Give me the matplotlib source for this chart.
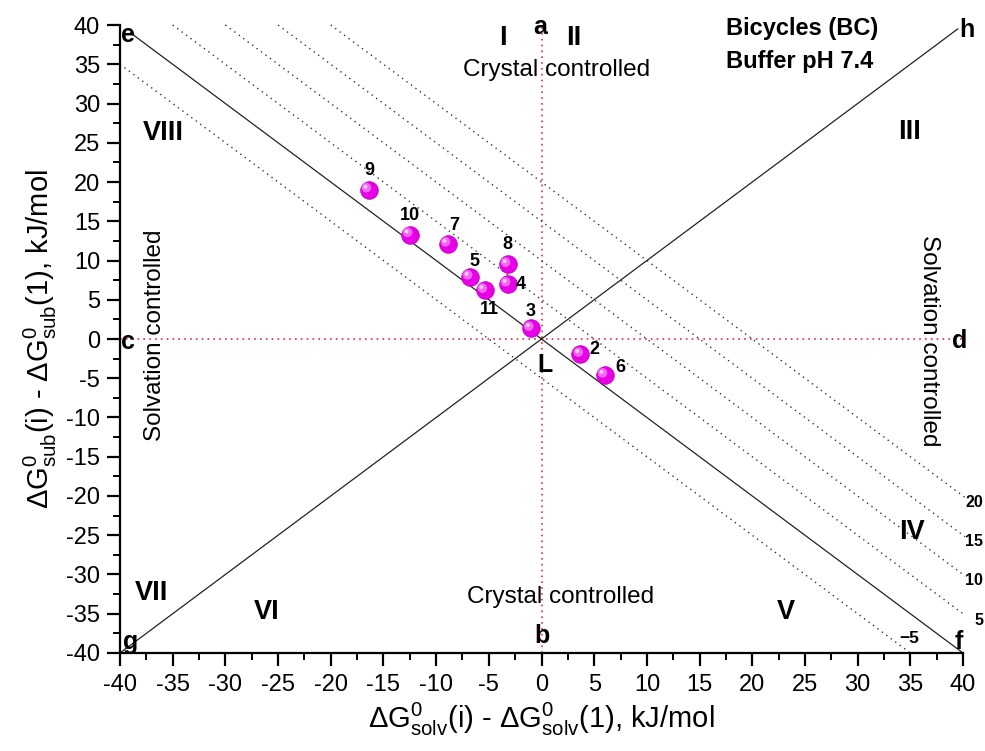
import matplotlib
matplotlib.use("Agg")
import matplotlib.pyplot as plt
from matplotlib.transforms import offset_copy
import numpy as np

plt.rcParams['font.family'] = ['Liberation Sans', 'DejaVu Sans']
plt.rcParams['mathtext.fontset'] = 'custom'
plt.rcParams['mathtext.rm'] = 'Liberation Sans'
plt.rcParams['mathtext.it'] = 'Liberation Sans'
plt.rcParams['mathtext.bf'] = 'Liberation Sans:bold'

# Compound data: solvation vs sublimation Gibbs energy differences
labels = ['9', '10', '7', '8', '5', '4', '11', '3', '2', '6']
d_solv = [-16.4, -12.5, -8.9, -3.2, -6.8, -3.2, -5.4, -1.0, 3.7, 6.0]
d_sub = [19.0, 13.3, 12.1, 9.5, 7.9, 7.0, 6.2, 1.35, -1.95, -4.6]
label_dx = [0.1, 0.0, 0.6, 0.0, 0.4, 1.2, 0.5, 0.0, 1.3, 1.5]
label_dy = [2.5, 2.4, 2.3, 2.6, 2.0, 0.0, -2.4, 2.1, 0.6, 1.0]

# Iso-lines x + y = const
iso_consts = [-5, 5, 10, 15, 20]
iso_labels = ['−5', '5', '10', '15', '20']

xticks = np.arange(-40, 41, 5)
yticks = np.arange(-40, 41, 5)

fig = plt.figure(figsize=(9.85, 7.51), dpi=100)
ax = fig.add_axes([0.1218, 0.1305, 0.8559, 0.8362])
ax.set_xlim(-40, 40)
ax.set_ylim(-40, 40)

for s in ['top', 'right']:
    ax.spines[s].set_visible(False)
for s in ['left', 'bottom']:
    ax.spines[s].set_linewidth(1.6)

ax.set_xticks(xticks)
ax.set_yticks(yticks)
ax.set_xticks(np.arange(-37.5, 40, 5), minor=True)
ax.set_yticks(np.arange(-37.5, 40, 5), minor=True)
ax.tick_params(which='major', direction='out', length=9.3, width=1.6, labelsize=17)
ax.tick_params(which='minor', direction='out', length=4.8, width=1.4)
ax.tick_params(axis='x', which='major', pad=5.5)
ax.tick_params(axis='y', which='major', pad=5)
ax.set_xticklabels([f'{v:d}' for v in xticks])
ax.set_yticklabels([f'{v:d}' for v in yticks])

ax.set_xlabel('ΔG$^0_{solv}$(i) - ΔG$^0_{solv}$(1), kJ/mol', fontsize=21, labelpad=3.5)
ax.set_ylabel('ΔG$^0_{sub}$(i) - ΔG$^0_{sub}$(1), kJ/mol', fontsize=21, labelpad=5)

# Reference axes through L
ax.plot([-40, 40], [0, 0], color='#e03030', ls=(0, (1, 2.5)), lw=1.2)
ax.plot([0, 0], [-40, 40], color='#e03030', ls=(0, (1, 2.5)), lw=1.2)

# Diagonals e-f and g-h
ax.plot([-39, 40], [39, -40], color='#222222', lw=0.9, clip_on=False)
ax.plot([-40, 39.5], [-40, 39.5], color='#222222', lw=0.9, clip_on=False)

# Iso-lines
for c in iso_consts:
    x0 = max(-40, c - 40)
    x1 = min(40.2, c + 40)
    ax.plot([x0, x1], [c - x0, c - x1], color='#333333', ls=(0, (1, 3)), lw=1.0, clip_on=False)

for c, t in zip(iso_consts, iso_labels):
    if c < 0:
        ax.text(34.9, -38.2, t, fontsize=12.5, fontweight='bold', ha='center', va='center')
    else:
        ax.text(41.9, c - 40.8, t, fontsize=11.5, fontweight='bold', ha='right', va='center',
                clip_on=False)

# Points drawn as shaded spheres
ax.scatter(d_solv, d_sub, s=160, color='#e600e6', edgecolors='#c400c4', linewidths=0.6, zorder=5)
hl = offset_copy(ax.transData, fig=fig, x=-1.6, y=1.6, units='points')
ax.scatter(d_solv, d_sub, s=48, color='#f266f2', edgecolors='none', zorder=6, transform=hl)
hl2 = offset_copy(ax.transData, fig=fig, x=-2.3, y=2.3, units='points')
ax.scatter(d_solv, d_sub, s=8, color='#ffd0ff', edgecolors='none', zorder=7, transform=hl2)

for lab, x, y, dx, dy in zip(labels, d_solv, d_sub, label_dx, label_dy):
    ax.text(x + dx, y + dy, lab, fontsize=13, fontweight='bold', ha='center', va='center', zorder=8)

# Corner and axis point letters
for t, x, y in [('e', -39.2, 38.7), ('a', -0.1, 39.7), ('h', 40.4, 39.4), ('c', -39.2, -0.4),
                ('d', 39.7, -0.3), ('g', -39.0, -38.6), ('b', 0.0, -37.8), ('f', 39.6, -38.6),
                ('L', 0.3, -3.3)]:
    ax.text(x, y, t, fontsize=18, fontweight='bold', ha='center', va='center', clip_on=False, zorder=9)

# Region numerals
for t, x, y in [('I', -3.7, 38.4), ('II', 3.1, 38.4), ('III', 34.9, 26.4), ('IV', 35.2, -24.6),
                ('V', 23.2, -34.8), ('VI', -26.1, -34.8), ('VII', -37.0, -32.4), ('VIII', -35.9, 26.2)]:
    ax.text(x, y, t, fontsize=19.5, fontweight='bold', ha='center', va='center')

ax.text(1.4, 34.3, 'Crystal controlled', fontsize=17.5, ha='center', va='center')
ax.text(1.8, -32.9, 'Crystal controlled', fontsize=17.5, ha='center', va='center')
ax.text(-36.7, 0.5, 'Solvation controlled', fontsize=17.5, ha='center', va='center', rotation=90)
ax.text(36.8, -0.2, 'Solvation controlled', fontsize=17.5, ha='center', va='center', rotation=270)

ax.text(17.5, 39.6, 'Bicycles (BC)', fontsize=17, fontweight='bold', ha='left', va='center')
ax.text(17.5, 35.3, 'Buffer pH 7.4', fontsize=17, fontweight='bold', ha='left', va='center')

fig.savefig('out.png', dpi=100)
